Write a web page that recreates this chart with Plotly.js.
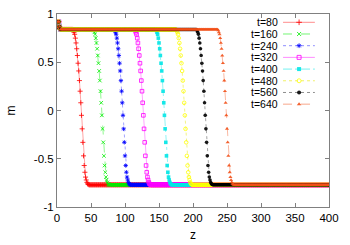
<!DOCTYPE html>
<html><head><meta charset="utf-8">
<script src="https://cdn.plot.ly/plotly-3.0.1.min.js"></script>
<style>html,body{margin:0;padding:0;background:#fff}#c{width:350px;height:245px}</style>
</head><body><div id="c"></div>
<script>
// ---- data ----
const labels = ["t=80","t=160","t=240","t=320","t=400","t=480","t=560","t=640"];
const colors = ["#ff0000","#00ee00","#0000ff","#ff00ff","#00e5e5","#ffff00","#000000","#f25018"];
const lineColors = ["rgba(255,0,0,0.45)","rgba(0,238,0,0.55)","rgba(0,0,255,0.45)","rgba(255,0,255,0.45)","rgba(0,229,229,0.55)","rgba(230,230,0,0.6)","rgba(0,0,0,0.45)","rgba(242,80,24,0.5)"];
const symbols = ["cross-thin-open","x-thin-open","asterisk-open","square-open","square","circle-open","circle","triangle-up"];
const dashes = ["solid","dash","dot","solid","dashdot","dot","dot","dash"];
const zMax = 400;                 // z runs 0..400 in steps of 1
const leftEdge = [0.86, 0.92, 0.92, 0.92, 0.87]; // m at z=0..4
const mHigh = 0.84;               // upper plateau
const mLow = -0.77;               // lower plateau
// first z of each front and the m values through that front
const frontStart = [23, 53, 84, 114, 145, 175, 205, 236];
const front80  = [0.84,0.83,0.81,0.79,0.75,0.70,0.64,0.57,0.49,0.41,0.31,0.20,0.08,-0.05,-0.19,-0.33,-0.47,-0.57,-0.64,-0.69,-0.72,-0.745,-0.76,-0.765];
const front160 = [0.84,0.83,0.81,0.79,0.75,0.70,0.64,0.57,0.49,0.41,0.31,0.20,0.08,-0.05,-0.19,-0.33,-0.47,-0.57,-0.64,-0.69,-0.72,-0.745,-0.76,-0.765];
const front240 = [0.84,0.83,0.81,0.79,0.75,0.70,0.64,0.57,0.49,0.41,0.31,0.20,0.08,-0.05,-0.19,-0.33,-0.47,-0.57,-0.64,-0.69,-0.72,-0.745,-0.76,-0.765];
const front320 = [0.84,0.83,0.81,0.79,0.75,0.70,0.64,0.57,0.49,0.41,0.31,0.20,0.08,-0.05,-0.19,-0.33,-0.47,-0.57,-0.64,-0.69,-0.72,-0.745,-0.76,-0.765];
const front400 = [0.84,0.83,0.81,0.79,0.75,0.70,0.64,0.57,0.49,0.41,0.31,0.20,0.08,-0.05,-0.19,-0.33,-0.47,-0.57,-0.64,-0.69,-0.72,-0.745,-0.76,-0.765];
const front480 = [0.84,0.83,0.81,0.79,0.75,0.70,0.64,0.57,0.49,0.41,0.31,0.20,0.08,-0.05,-0.19,-0.33,-0.47,-0.57,-0.64,-0.69,-0.72,-0.745,-0.76,-0.765];
const front560 = [0.84,0.83,0.81,0.79,0.75,0.70,0.64,0.57,0.49,0.41,0.31,0.20,0.08,-0.05,-0.19,-0.33,-0.47,-0.57,-0.64,-0.69,-0.72,-0.745,-0.76,-0.765];
const front640 = [0.84,0.83,0.81,0.79,0.75,0.70,0.64,0.57,0.49,0.41,0.31,0.20,0.08,-0.05,-0.19,-0.33,-0.47,-0.57,-0.64,-0.69,-0.72,-0.745,-0.76,-0.765];
const fronts = [front80,front160,front240,front320,front400,front480,front560,front640];

// ---- assemble the profiles (plateaus + read front values) ----
function profile(k){
  const z=[], m=[];
  const s=frontStart[k], f=fronts[k];
  for(let i=0;i<=zMax;i++){
    z.push(i);
    if(i<leftEdge.length) m.push(leftEdge[i]);
    else if(i<s) m.push(mHigh);
    else if(i<s+f.length) m.push(f[i-s]);
    else m.push(mLow);
  }
  return {z,m};
}

const traces=[];
labels.forEach((lab,k)=>{
  const p=profile(k);
  const open = /open/.test(symbols[k]);
  traces.push({
    x:p.z, y:p.m, type:'scatter', mode:'lines+markers', name:lab, showlegend:false,
    line:{color:lineColors[k], width:0.8, dash:dashes[k]},
    marker:{symbol:symbols[k], size:3.6, color:colors[k], opacity:0.9,
            line:{color:colors[k], width: open?0.9:0}},
    hoverinfo:'skip'
  });
});

// ---- legend (text on the left, sample on the right, as in the reference) ----
const legX0=0.831, legX1=0.948, legXm=0.890, legTextX=0.818, legY0=0.957, legDy=0.0606;
const annotations=[];
labels.forEach((lab,k)=>{
  const y=legY0-k*legDy;
  const open = /open/.test(symbols[k]);
  traces.push({x:[legX0,legX1], y:[y,y], xaxis:'x2', yaxis:'y2', type:'scatter', mode:'lines',
    line:{color:lineColors[k], width:1, dash:dashes[k]}, showlegend:false, hoverinfo:'skip'});
  traces.push({x:[legXm], y:[y], xaxis:'x2', yaxis:'y2', type:'scatter', mode:'markers',
    marker:{symbol:symbols[k], size:4, color:colors[k], opacity:0.9, line:{color:colors[k], width:open?0.9:0}},
    showlegend:false, hoverinfo:'skip'});
  annotations.push({xref:'paper', yref:'paper', x:legTextX, y:y, text:lab, showarrow:false,
    xanchor:'right', yanchor:'middle', borderpad:0, font:{size:10.5, color:'#000'}});
});

const axisCommon = {showgrid:false, zeroline:false, showline:true, linecolor:'#808080', linewidth:1,
  mirror:'ticks', ticks:'inside', ticklen:4, tickcolor:'#808080', tickwidth:1,
  tickfont:{size:11.5, color:'#000'}};

const layout = {
  width:350, height:245, margin:{l:57, r:21, t:14, b:38},
  paper_bgcolor:'#fff', plot_bgcolor:'#fff',
  font:{family:'"Liberation Sans", Arial, sans-serif', size:12, color:'#000'},
  xaxis:Object.assign({}, axisCommon, {range:[0,400], tickvals:[0,50,100,150,200,250,300,350,400],
    title:{text:'z', font:{size:12}, standoff:7}}),
  yaxis:Object.assign({}, axisCommon, {range:[-1,1], tickvals:[-1,-0.5,0,0.5,1],
    ticktext:['-1','-0.5','0','0.5','1'], title:{text:'m', font:{size:12}, standoff:15}}),
  xaxis2:{overlaying:'x', range:[0,1], visible:false, fixedrange:true},
  yaxis2:{overlaying:'y', range:[0,1], visible:false, fixedrange:true},
  annotations:annotations, showlegend:false
};
Plotly.newPlot('c', traces, layout, {staticPlot:true, displayModeBar:false});
</script></body></html>
